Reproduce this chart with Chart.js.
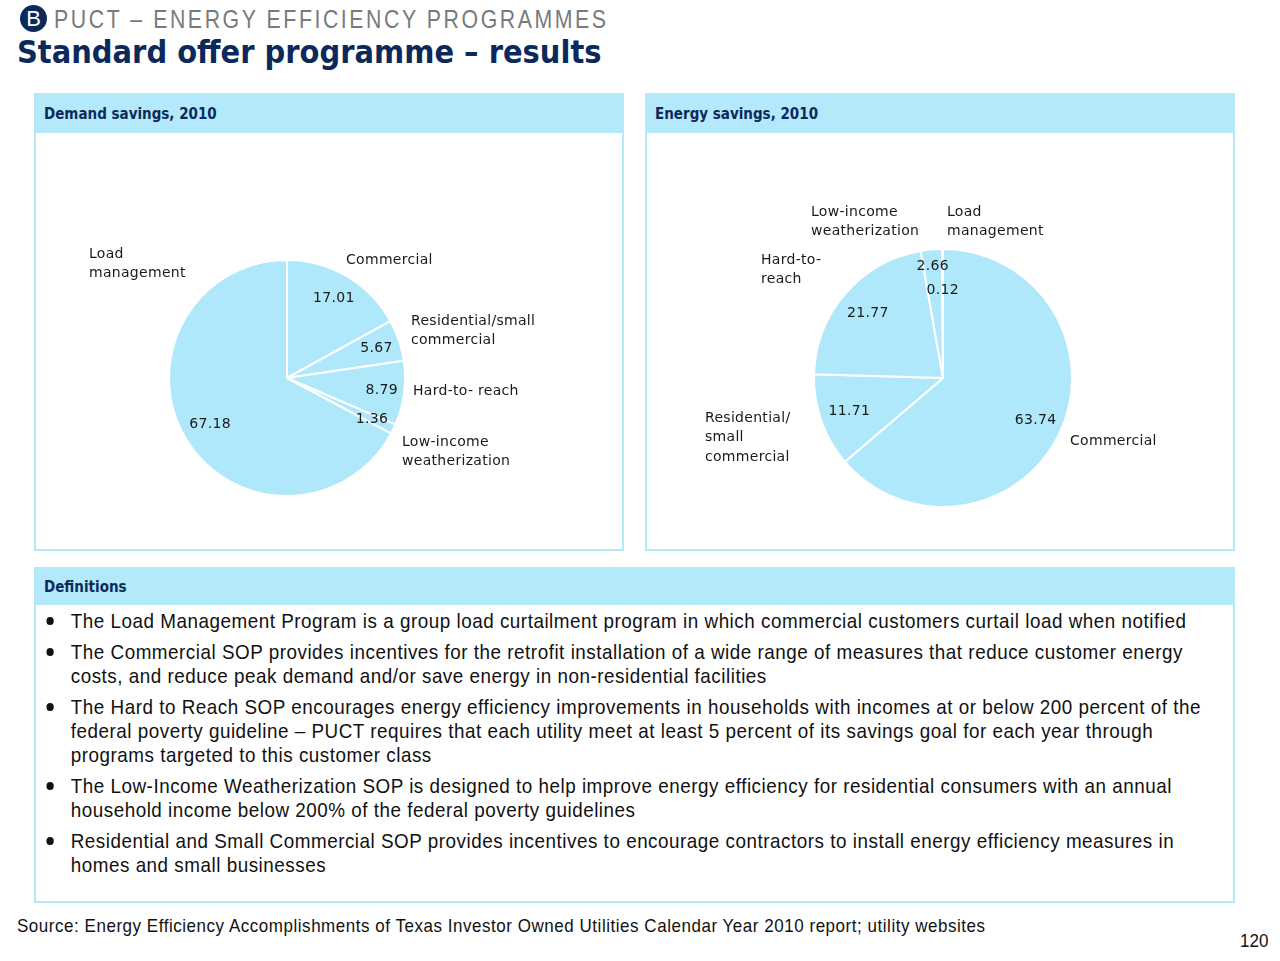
<!DOCTYPE html>
<html>
<head>
<meta charset="utf-8">
<script src="https://cdn.jsdelivr.net/npm/chart.js@4.4.1/dist/chart.umd.min.js"></script>
<style>
  body { margin: 0; background: #fff; width: 1280px; height: 961px; position: relative; overflow: hidden; font-family: "DejaVu Sans", Verdana, sans-serif; }
  .abs { position: absolute; }
  .narrow { font-family: "Liberation Sans", Arial, sans-serif; white-space: nowrap; transform-origin: left top; }
  .badge { left: 20px; top: 5px; width: 27px; height: 27px; border-radius: 50%; background: #0b2a5b; color: #fff; font: 22px "Liberation Sans", Arial, sans-serif; text-align: center; line-height: 27px; }
  .kicker { left: 54px; top: 7px; font-size: 25px; line-height: 1; color: #7a7a7a; letter-spacing: 3px; transform: scaleX(0.852); }
  .title { left: 17px; top: 36px; font: bold 32.2px/1 "DejaVu Sans Condensed", "DejaVu Sans", sans-serif; color: #0b2a5b; white-space: nowrap; }
  .panel { border: 2px solid #b3e9fb; background: #fff; box-sizing: border-box; }
  .band { position: absolute; left: 0; top: 0; right: 0; background: #b3e9fb; color: #0b2a5b; font: bold 15px "DejaVu Sans Condensed", "DejaVu Sans", sans-serif; padding-left: 8px; box-sizing: border-box; }
  .defs { left: 15px; top: 40px; margin: 0; padding: 0; list-style: none; font-size: 21px; color: #111; letter-spacing: 0.58px; transform: scaleX(0.897); }
  .defs li { position: relative; padding-left: 22px; line-height: 24px; margin-bottom: 7px; }
  .defs li::before { content: ""; position: absolute; left: -5.5px; top: 8px; width: 8.5px; height: 7.6px; border-radius: 50%; background: #111; }
  .source { left: 17px; top: 915px; font-size: 19px; line-height: 22px; color: #111; letter-spacing: 0.6px; transform: scaleX(0.894); }
  .page { left: 1240px; top: 930px; font-size: 19px; line-height: 22px; color: #111; transform: scaleX(0.894); }
</style>
</head>
<body>
<div class="abs badge">B</div>
<div class="abs narrow kicker">PUCT – ENERGY EFFICIENCY PROGRAMMES</div>
<div class="abs title">Standard offer programme – results</div>

<div class="abs panel" style="left:34px; top:93px; width:590px; height:458px;">
  <div class="band" style="height:38px; line-height:38px;">Demand savings, 2010</div>
  <div class="abs" style="left:0; top:36px; width:586px; height:418px;"><canvas id="demand"></canvas></div>
</div>
<div class="abs panel" style="left:645px; top:93px; width:590px; height:458px;">
  <div class="band" style="height:38px; line-height:38px;">Energy savings, 2010</div>
  <div class="abs" style="left:0; top:36px; width:586px; height:418px;"><canvas id="energy"></canvas></div>
</div>

<div class="abs panel" style="left:34px; top:567px; width:1201px; height:336px;">
  <div class="band" style="height:36px; line-height:36px;">Definitions</div>
  <ul class="abs narrow defs">
    <li>The Load Management Program is a group load curtailment program in which commercial customers curtail load when notified</li>
    <li>The Commercial SOP provides incentives for the retrofit installation of a wide range of measures that reduce customer energy<br>costs, and reduce peak demand and/or save energy in non-residential facilities</li>
    <li>The Hard to Reach SOP encourages energy efficiency improvements in households with incomes at or below 200 percent of the<br>federal poverty guideline – PUCT requires that each utility meet at least 5 percent of its savings goal for each year through<br>programs targeted to this customer class</li>
    <li>The Low-Income Weatherization SOP is designed to help improve energy efficiency for residential consumers with an annual<br>household income below 200% of the federal poverty guidelines</li>
    <li>Residential and Small Commercial SOP provides incentives to encourage contractors to install energy efficiency measures in<br>homes and small businesses</li>
  </ul>
</div>

<div class="abs narrow source">Source: Energy Efficiency Accomplishments of Texas Investor Owned Utilities Calendar Year 2010 report; utility websites</div>
<div class="abs narrow page">120</div>

<script>
// programmes, clockwise from 12 o'clock
const demandLabels = ["Commercial", "Residential/small\ncommercial", "Hard-to- reach", "Low-income\nweatherization", "Load\nmanagement"];
const demandValues = [17.01, 5.67, 8.79, 1.36, 67.18];

const energyLabels = ["Commercial", "Residential/\nsmall\ncommercial", "Hard-to-\nreach", "Low-income\nweatherization", "Load\nmanagement"];
const energyValues = [63.74, 11.71, 21.77, 2.66, 0.12];

const PIE_BLUE = "#b0e8fb";

// draws the value inside each slice and the category name beside the pie
const sliceText = {
  id: "sliceText",
  afterDatasetsDraw(chart, args, opts) {
    const ctx = chart.ctx;
    const meta = chart.getDatasetMeta(0);
    const ds = chart.data.datasets[0];
    ctx.save();
    ctx.font = "14px 'DejaVu Sans', Verdana, sans-serif";
    ctx.letterSpacing = "0.3px";
    ctx.fillStyle = "#1a1a1a";
    ctx.textBaseline = "middle";
    meta.data.forEach((arc, i) => {
      const { x, y, startAngle, endAngle, outerRadius } = arc.getProps(["x", "y", "startAngle", "endAngle", "outerRadius"], true);
      const mid = (startAngle + endAngle) / 2;
      const r = outerRadius * (opts.valueRadius[i] || 0.78);
      ctx.textAlign = "center";
      ctx.fillText(ds.data[i].toFixed(2), x + Math.cos(mid) * r, y + Math.sin(mid) * r);

      const [dx, dy] = opts.nameAt[i];
      ctx.textAlign = "left";
      chart.data.labels[i].split("\n").forEach((line, k) => {
        ctx.fillText(line, x + dx, y + dy + k * 19.5);
      });
    });
    ctx.restore();
  }
};

function makePie(id, labels, values, padding, valueRadius, nameAt) {
  const ctx = document.getElementById(id).getContext("2d");
  return new Chart(ctx, {
    type: "pie",
    data: {
      labels: labels,
      datasets: [
        {
          data: values,
          backgroundColor: PIE_BLUE,
          borderColor: "#ffffff",
          borderWidth: 2,
        },
      ],
    },
    options: {
      responsive: true,
      maintainAspectRatio: false,
      animation: false,
      layout: { padding: padding },
      plugins: {
        legend: { display: false },
        tooltip: { enabled: false },
        sliceText: { valueRadius: valueRadius, nameAt: nameAt },
      },
    },
    plugins: [sliceText],
  });
}

makePie("demand", demandLabels, demandValues,
  { left: 132, right: 216, top: 128, bottom: 52 },
  [0.78, 0.80, 0.81, 0.80, 0.76],
  [[59, -118], [124, -57], [126, 13], [115, 64], [-198, -124]]);

makePie("energy", energyLabels, energyValues,
  { left: 166, right: 160, top: 117, bottom: 41 },
  [0.79, 0.77, 0.77, 0.87, 0.68],
  [[127, 63], [-238, 40], [-182, -118], [-132, -166], [4, -166]]);
</script>
</body>
</html>
